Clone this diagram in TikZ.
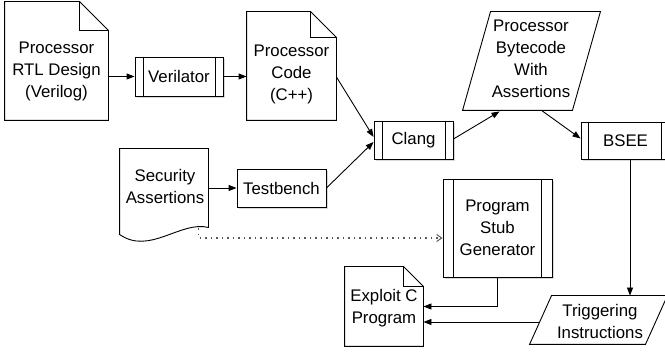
\documentclass[tikz,border=0pt]{standalone}
\usepackage{fontspec}
\setmainfont{Liberation Sans}
\usetikzlibrary{arrows.meta,shadows,calc}
\tikzset{
  lbl/.style={align=center, inner sep=0pt, font=\fontsize{16.8}{22}\selectfont},
  procbox/.style={draw, fill=white, lbl,
    drop shadow={shadow xshift=1.5pt, shadow yshift=-2pt, opacity=0.3}},
  frame/.style={draw=none, inner sep=0pt},
  arr/.style={-{Triangle[length=8pt,width=6pt]}},
  dotarr/.style={draw=black!65, line width=1.3pt, dash pattern=on 1.3pt off 4.2pt,
    -{Straight Barb[length=5pt,width=7pt,line width=1pt]}},
}
\newcommand\innerlines[3]{%
  \draw ([xshift=#2]#1.north west) -- ([xshift=#2]#1.south west);
  \draw ([xshift=-#3]#1.north east) -- ([xshift=-#3]#1.south east);}
\newcommand\folddoc[2]{%
  \draw[fill=white] (#1.north west) -- ([xshift=-#2]#1.north east) -- ([yshift=-#2]#1.north east)
     -- (#1.south east) -- (#1.south west) -- cycle;
  \draw ([xshift=-#2]#1.north east) -- ([xshift=-#2,yshift=-#2]#1.north east) -- ([yshift=-#2]#1.north east);}
\begin{document}
\begin{tikzpicture}[x=1pt,y=-1pt,line width=0.9pt]
\useasboundingbox (0,0) rectangle (665,352);
\clip (0,0) rectangle (665,352);

% documents with folded corner
\node[frame, minimum width=103pt, minimum height=118pt] (rtl) at (56.5,61) {};
\folddoc{rtl}{29pt}
\node[lbl] (rtlt) at (56.5,71) {Processor\\RTL Design\\(Verilog)};

\node[frame, minimum width=89pt, minimum height=108pt] (pc) at (291.5,66) {};
\folddoc{pc}{26pt}
\node[lbl] (pct) at (291.5,74) {Processor\\Code\\(C++)};

\node[frame, minimum width=78pt, minimum height=79pt] (exploit) at (384,306.5) {};
\folddoc{exploit}{20pt}
\node[lbl] (expt) at (384,308) {Exploit C\\Program};

% process boxes
\node[procbox, minimum width=88pt, minimum height=39pt] (ver) at (179,76.5) {Verilator};
\innerlines{ver}{9pt}{8pt}
\node[procbox, minimum width=79pt, minimum height=38pt] (clang) at (413.5,140) {Clang};
\innerlines{clang}{9pt}{8pt}
\node[procbox, minimum width=89pt, minimum height=37pt] (bsee) at (625.5,140.5) {BSEE};
\innerlines{bsee}{8pt}{9pt}
\node[procbox, minimum width=109pt, minimum height=98pt] (psg) at (497.5,228) {Program\\Stub\\Generator};
\innerlines{psg}{11pt}{11pt}
\node[procbox, minimum width=89pt, minimum height=38pt] (tb) at (281.5,188) {Testbench};

% security assertions (wavy document)
\node[frame, minimum width=88pt, minimum height=78pt] (sec) at (164,188) {};
\fill[black, opacity=0.3, xshift=1.5pt, yshift=-2pt]
  (sec.north west) -- (sec.north east) -- (sec.south east)
  .. controls ($(sec.south east)+(-28,-7)$) and ($(sec.south west)+(30,28)$) .. ($(sec.south west)+(0,7)$) -- cycle;
\draw[fill=white]
  (sec.north west) -- (sec.north east) -- (sec.south east)
  .. controls ($(sec.south east)+(-28,-7)$) and ($(sec.south west)+(30,28)$) .. ($(sec.south west)+(0,7)$) -- cycle;
\node[lbl] (sect) at (165,186) {Security\\Assertions};

% parallelograms
\node[frame, minimum width=137pt, minimum height=98pt] (bc) at (531.5,61) {};
\draw[fill=white] ($(bc.north west)+(28,0)$) -- (bc.north east) -- ($(bc.south east)+(-28,0)$) -- (bc.south west) -- cycle;
\node[lbl] (bct) at (531,59) {Processor\\Bytecode\\With\\Assertions};

\node[frame, minimum width=137pt, minimum height=48pt] (trig) at (598.5,320) {};
\draw[fill=white] ($(trig.north west)+(22,0)$) -- (trig.north east) -- ($(trig.south east)+(-22,0)$) -- (trig.south west) -- cycle;
\node[lbl] (trigt) at (600,321) {Triggering\\Instructions};

% connectors
\draw[arr] (rtl.east |- ver.west) -- (ver.west);
\draw[arr] (ver.east) -- (ver.east -| pc.west);
\draw[arr] ($(pc.east)+(0,11)$) -- ([yshift=3pt]clang.west);
\draw[arr] (tb.east) -- ([yshift=-2pt]clang.west);
\draw[arr] (sec.east) -- (tb.west);
\draw[arr] ([yshift=1pt]clang.east) -- ($(bc.south west)+(37,1)$);
\draw[arr] ($(bc.south west)+(79,0)$) -- ([yshift=2pt]bsee.west);
\draw[arr] ([xshift=4.5pt]bsee.south) -- ([xshift=4.5pt]bsee.south |- trig.north);
\draw[arr] (psg.south) |- (exploit.east);
\draw[arr] ($(trig.west)+(10,2)$) -- ($(exploit.east)+(0,15.5)$);
\coordinate (dotstart) at ($(sec.south east)+(-10,1)$);
\draw[dotarr] (dotstart) |- ([yshift=-10pt]psg.west);
\end{tikzpicture}
\end{document}
